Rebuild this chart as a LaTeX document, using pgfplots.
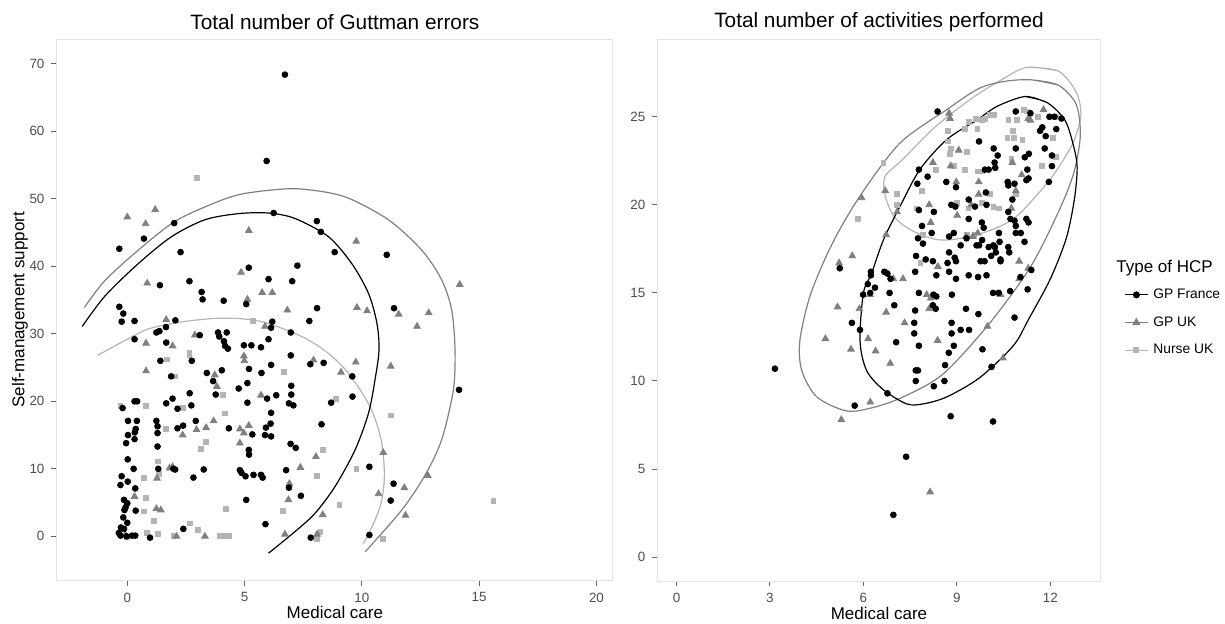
\documentclass[border=0pt]{standalone}
\usepackage{fontspec}
\setmainfont{Liberation Sans}
\usepackage{pgfplots}
\pgfplotsset{compat=1.18}
\definecolor{gpfr}{RGB}{0,0,0}
\definecolor{gpuk}{RGB}{128,128,128}
\definecolor{nurse}{RGB}{180,180,180}
\definecolor{ticktxt}{RGB}{77,77,77}

\pgfplotsset{
  panel/.style={
    scale only axis,
    axis line style={draw=gray!22, line width=0.5pt},
    tick align=outside, tick pos=left,
    major tick length=2.7pt,
    tick style={draw=black!60, line width=0.5pt},
    ticklabel style={font=\fontsize{6.7}{8}\selectfont, text=ticktxt},
    /pgf/number format/assume math mode=true,
    title style={font=\fontsize{10.4}{12}\selectfont, at={(axis description cs:0.5,1)}, anchor=center, yshift=2.5pt},
    xlabel style={font=\fontsize{8.5}{10}\selectfont, at={(axis description cs:0.5,0)}, anchor=center, yshift=-16.3pt},
  },
  fr/.style={only marks, mark=*, mark size=1.45pt, color=gpfr, forget plot},
  uk/.style={only marks, mark=triangle*, mark size=1.9pt, color=gpuk, forget plot},
  nu/.style={only marks, mark=square*, mark size=1.2pt, color=nurse, forget plot},
  el/.style={smooth, no markers, line width=0.6pt, forget plot},
}

\begin{document}
\begin{tikzpicture}
\path[use as bounding box] (0,0) rectangle (612.5pt,312pt);

% ---------------- left panel ----------------
\begin{axis}[panel,
  at={(28.45pt,21.9pt)}, anchor=south west,
  width=278pt, height=270.5pt,
  xmin=-3.0, xmax=20.7, ymin=-6.5, ymax=73.65,
  xtick={0,5,10,15,20}, ytick={0,10,...,70},
  title={Total number of Guttman errors},
  xlabel={Medical care},
  ylabel={Self-management support},
  ylabel style={font=\fontsize{8.5}{10}\selectfont, at={(axis description cs:-0.0664,0.5)}, anchor=center},
]
% Nurse UK
\addplot[nu] coordinates {
(2.97,53.1)(5.35,31.9)(2.65,27.2)(2.65,26.8)(1.70,26.2)(6.69,24.4)(2.04,23.7)(4.07,21.0)
(8.89,20.3)(0.78,19.3)(2.38,19.0)(-0.29,19.3)(4.16,18.2)(11.23,17.9)(1.66,15.9)(3.34,14.0)
(3.14,12.9)(8.35,12.8)(1.29,11.1)(9.77,10.0)(8.09,9.0)(0.71,8.7)(1.36,9.3)(0.8,5.7)
(0.71,3.7)(4.21,4.1)(6.62,3.8)(9.04,4.7)(15.61,5.2)(1.12,2.3)(2.68,1.9)(3.0,0.9)
(0.85,0.5)(1.32,0.4)(1.97,0.1)(3.94,0.1)(4.21,0.1)(4.33,0.1)(8.23,0.7)(8.09,-0.4)
(10.91,-0.4)(-0.03,-0.1)
};
% GP UK
\addplot[uk] coordinates {
(0.0,47.3)(0.78,46.3)(1.19,48.4)(5.18,45.3)(9.76,43.7)(0.85,37.5)(4.85,39.1)(5.12,35.1)
(5.75,36.1)(6.18,36.1)(6.82,33.5)(9.79,33.9)(10.22,33.4)(11.57,32.9)(12.85,33.1)(12.35,31.1)
(14.17,37.3)(5.87,31.1)(1.66,32.1)(0.8,28.6)(1.93,28.2)(2.88,29.8)(0.8,24.5)(4.97,26.7)
(4.99,26.0)(7.94,26.1)(9.74,25.8)(11.23,25.2)(9.11,24.3)(3.73,23.9)(3.82,22.2)(5.70,20.9)
(2.95,15.8)(3.36,16.1)(3.68,17.1)(4.80,15.9)(4.97,15.3)(5.18,16.4)(2.36,15.0)(4.80,13.8)
(1.27,8.6)(1.80,10.1)(1.93,10.3)(8.04,11.8)(7.38,10.2)(6.91,7.8)(6.87,5.4)(10.91,12.4)
(10.71,6.3)(11.81,7.2)(12.81,9.0)(11.86,3.1)(8.33,3.2)(0.31,5.9)(1.24,4.1)(1.43,3.9)
(6.72,0.3)(3.31,0.0)(2.10,0.0)(-0.08,0.2)(8.09,0.3)
};
% GP France
\addplot[fr] coordinates {
(6.72,68.4)(5.94,55.6)(6.24,47.9)(8.08,46.7)(8.25,45.1)(2.0,46.4)(0.71,44.1)(-0.34,42.6)
(2.27,42.1)(8.84,42.1)(11.06,41.7)(5.18,39.8)(7.25,40.1)(6.02,38.1)(7.03,37.8)(2.65,37.8)
(1.39,37.2)(3.17,36.2)(3.21,35.1)(4.11,34.9)(5.07,34.4)(8.09,33.8)(11.37,33.8)(-0.34,34.0)
(-0.17,33.0)(-0.24,31.8)(0.31,31.9)(2.05,32.0)(6.18,31.8)(7.76,31.9)(6.13,30.9)(1.65,31.0)
(1.37,30.4)(1.24,30.2)(3.09,29.8)(3.87,30.2)(3.92,29.6)(4.24,30.2)(6.97,30.2)(0.31,29.2)
(6.02,29.2)(4.12,28.9)(4.17,28.2)(4.29,27.8)(4.97,28.3)(5.29,28.3)(5.70,28.0)(1.66,28.7)
(6.97,26.8)(2.75,26.0)(1.41,26.0)(5.19,24.8)(8.37,25.7)(7.80,25.5)(6.13,25.4)(3.39,24.2)
(5.72,24.2)(4.03,24.6)(9.59,23.7)(1.87,23.7)(3.66,23.0)(6.99,22.3)(5.12,22.7)(4.75,21.9)
(14.14,21.7)(6.99,21.0)(2.66,21.2)(3.77,21.0)(6.35,20.9)(9.60,20.7)(1.93,20.4)(5.96,20.4)
(0.31,20.0)(0.42,20.0)(-0.20,19.0)(1.66,19.7)(5.12,19.8)(6.89,19.7)(7.08,19.4)(2.73,19.4)
(2.14,18.9)(8.69,19.8)(6.13,18.3)(0.03,17.1)(0.41,17.1)(1.24,17.1)(2.92,17.1)(0.36,15.9)
(0.32,15.4)(1.29,16.3)(1.29,15.3)(2.38,16.4)(2.14,16.0)(4.33,16.0)(5.33,15.1)(5.91,16.1)
(6.11,16.7)(5.87,15.0)(6.13,14.8)(8.28,16.6)(0.03,15.0)(0.31,14.4)(-0.05,13.8)(1.29,13.3)
(6.96,13.7)(7.18,13.1)(5.18,12.8)(5.19,12.1)(0.02,11.4)(0.27,10.0)(1.32,10.0)(1.97,10.0)
(2.04,9.9)(3.26,9.9)(4.80,9.8)(4.87,9.4)(5.04,8.9)(5.38,9.1)(5.70,9.1)(5.77,8.7)
(6.77,9.8)(2.82,8.7)(-0.24,8.9)(0.02,8.1)(-0.29,7.6)(0.34,7.1)(6.89,7.2)(11.35,7.8)
(7.40,6.0)(10.32,10.3)(-0.14,5.4)(0.0,4.9)(5.07,5.4)(11.23,5.3)(-0.07,4.3)(-0.12,3.9)
(0.36,3.8)(-0.17,2.8)(0.0,2.0)(5.89,1.8)(2.39,1.1)(-0.27,1.3)(-0.36,0.5)(-0.29,0.1)
(-0.03,0.0)(0.2,0.1)(0.34,0.1)(0.97,-0.2)(7.82,-0.2)(10.32,0.2)(-0.14,1.1)
};
% ellipse arcs
\addplot[el, color=nurse] coordinates {
(-1.27,26.8)(0.0,29.2)(0.97,30.8)(2.4,31.8)(3.81,32.3)(5.0,32.2)(5.94,31.6)(7.44,29.6)
(8.5,27.3)(9.42,24.2)(10.35,19.2)(10.82,14.3)(10.96,9.3)(10.85,5.4)(10.56,2.4)(10.06,-1.1)
};
\addplot[el, color=gpuk] coordinates {
(-1.83,33.9)(-0.95,37.9)(0.47,42.4)(1.96,46.5)(3.31,48.8)(4.73,50.6)(6.44,51.4)(7.58,51.4)
(9.28,50.3)(11.13,46.9)(12.55,42.4)(13.4,38.0)(13.83,33.5)(13.97,27.6)(13.9,21.7)(13.4,14.3)
(12.7,9.1)(11.7,3.9)(10.14,-2.3)
};
\addplot[el, color=gpfr] coordinates {
(-1.92,31.1)(-0.95,35.6)(0.47,40.4)(1.89,44.4)(3.31,46.9)(4.73,47.8)(6.0,47.9)(7.14,47.1)
(8.57,44.4)(9.57,40.4)(10.28,36.0)(10.64,31.6)(10.73,27.6)(10.56,23.2)(10.28,18.2)(9.71,12.8)
(8.86,7.4)(8.0,3.4)(7.15,0.7)(6.02,-2.5)
};
\end{axis}

% ---------------- right panel ----------------
\begin{axis}[panel,
  at={(328.9pt,21.45pt)}, anchor=south west,
  width=221.2pt, height=271pt,
  xmin=-0.6, xmax=13.6, ymin=-1.36, ymax=29.41,
  xtick={0,3,6,9,12}, ytick={0,5,...,25},
  title={Total number of activities performed},
  xlabel={Medical care},
  legend style={draw=none, fill=none, at={(1.0538,0.5426)}, anchor=north west,
    font=\fontsize{6.9}{8}\selectfont, row sep=6.4pt, inner sep=0pt,
    nodes={inner sep=0.5pt, text height=5pt, text depth=1.5pt},
    /tikz/every odd column/.append style={column sep=2pt}},
  legend cell align=left,
  legend image code/.code={\draw[mark repeat=2,mark phase=2,#1] plot coordinates {(0pt,0pt)(5.7pt,0pt)(11.4pt,0pt)};},
]
% Nurse UK
\addplot[nu] coordinates {
(6.64,22.4)(5.81,19.2)(7.08,20.6)(7.08,20.0)(7.88,20.8)(7.72,19.8)(7.91,18.3)(7.83,16.7)
(8.70,24.2)(8.70,23.6)(8.80,23.2)(8.78,22.9)(8.90,22.2)(8.33,22.0)(9.26,24.3)(9.38,24.7)
(9.32,23.0)(9.66,24.3)(9.61,24.9)(9.80,24.8)(9.89,24.9)(10.06,25.1)(10.18,25.1)(9.25,22.0)
(9.67,21.9)(9.80,21.9)(10.65,24.8)(10.81,24.2)(10.93,24.8)(11.14,25.4)(11.25,25.3)(11.59,25.0)
(12.17,25.0)(10.62,23.8)(10.82,23.8)(11.10,23.7)(12.08,23.8)(12.18,22.7)(11.74,22.2)(10.75,22.6)
(10.89,20.6)(10.17,19.9)(10.35,19.8)(10.05,20.6)(9.80,20.1)(9.01,20.1)(9.37,19.8)(9.56,18.3)
(9.32,18.3)
};
% GP UK
\addplot[uk] coordinates {
(8.75,25.2)(8.78,24.9)(11.78,25.4)(11.29,24.9)(11.36,24.8)(8.23,22.4)(8.80,22.2)(9.06,23.1)
(10.78,22.4)(11.08,21.7)(8.98,21.3)(9.70,21.3)(6.70,20.8)(5.94,20.4)(7.08,19.6)(8.11,20.0)
(8.16,19.0)(9.01,19.4)(9.70,20.6)(9.46,20.0)(10.75,19.8)(10.89,20.8)(9.67,18.4)(9.51,18.2)
(9.29,18.2)(6.73,18.3)(5.64,17.1)(5.22,16.7)(8.39,16.5)(7.27,15.8)(6.96,15.8)(6.21,14.9)
(8.03,14.9)(8.16,14.7)(10.40,14.9)(11.00,15.8)(11.00,16.8)(11.29,16.4)(5.17,14.2)(5.87,14.1)
(6.73,13.9)(8.11,14.1)(7.32,13.3)(4.78,12.4)(6.15,12.4)(8.38,12.3)(5.60,11.8)(6.39,11.7)
(6.86,11.0)(10.48,11.3)(9.98,13.1)(6.22,8.8)(5.29,7.8)(8.14,3.7)
};
% GP France
\addplot[fr] coordinates {
(8.38,25.3)(10.89,25.3)(11.36,25.2)(11.97,25.0)(12.36,24.9)(12.13,25.0)(11.67,24.2)(11.74,24.4)
(11.85,23.9)(12.19,24.3)(11.82,23.2)(12.05,22.8)(12.05,22.2)(11.95,21.3)(10.89,23.2)(11.31,22.9)
(11.18,22.7)(10.18,23.2)(10.31,22.8)(10.21,22.4)(10.23,22.1)(10.02,22.0)(9.90,22.0)(9.71,23.6)
(11.26,22.0)(11.23,21.4)(11.30,21.5)(10.85,21.2)(10.63,21.3)(10.65,21.1)(10.78,20.3)(8.66,21.3)
(8.97,21.0)(7.78,22.0)(8.06,21.6)(7.73,21.2)(7.78,19.7)(8.26,19.6)(8.82,20.0)(8.95,19.9)
(9.58,19.9)(9.95,20.0)(9.93,20.7)(9.38,20.3)(9.38,19.2)(9.80,19.0)(9.86,18.7)(10.65,19.6)
(10.72,19.2)(10.85,19.1)(10.89,18.8)(11.23,19.2)(11.30,19.0)(10.89,18.4)(11.05,18.4)(11.17,17.9)
(7.88,18.8)(8.19,18.4)(7.91,17.8)(7.75,18.1)(8.75,18.2)(8.90,18.4)(9.12,17.7)(9.31,18.1)
(9.63,17.7)(9.71,17.7)(9.81,18.0)(10.02,17.6)(10.17,17.7)(10.35,18.4)(10.37,17.9)(10.65,17.6)
(10.68,17.3)(10.22,17.6)(10.25,17.3)(10.10,17.1)(10.40,16.9)(10.40,16.8)(8.75,17.3)(8.93,17.0)
(7.69,17.1)(8.0,16.9)(8.23,16.8)(8.70,16.7)(8.97,16.8)(9.76,16.8)(9.89,16.8)(7.66,16.2)
(8.75,16.2)(8.34,16.0)(9.38,16.0)(9.68,15.9)(9.95,16.0)(8.97,15.8)(11.04,15.9)(11.39,16.3)
(6.67,16.2)(6.77,16.1)(6.87,15.8)(6.24,16.2)(6.24,16.0)(5.24,16.4)(6.14,15.5)(6.37,15.3)
(5.99,14.9)(6.22,15.0)(6.84,15.0)(7.78,15.0)(8.25,14.9)(8.34,14.8)(8.84,14.9)(8.23,14.3)
(8.32,14.1)(10.16,15.0)(10.34,15.0)(10.71,15.1)(11.27,15.2)(6.99,14.3)(7.66,14.0)(9.29,14.1)
(9.69,13.8)(5.63,13.3)(5.89,12.9)(7.63,13.3)(8.83,13.3)(10.85,13.6)(7.63,12.7)(8.83,12.7)
(9.12,12.9)(9.39,12.9)(7.05,12.2)(7.78,12.0)(8.90,12.0)(8.74,11.6)(9.82,11.8)(7.68,10.6)
(7.75,10.6)(8.62,10.9)(10.11,10.8)(3.16,10.7)(7.68,10.0)(8.26,9.7)(8.60,10.0)(6.77,9.3)
(5.72,8.6)(8.80,8.0)(10.16,7.7)(7.37,5.7)(6.96,2.4)
};
% ellipses
\addplot[el, color=nurse] coordinates {
(11.23,27.8)(12.25,27.6)(12.83,26.4)(12.98,25.1)(12.77,23.7)(12.4,22.5)(11.88,21.2)(10.81,19.2)
(9.63,18.3)(8.5,18.0)(7.6,18.5)(7.0,19.3)(6.7,20.5)(6.69,21.6)(7.27,22.6)(8.29,24.4)
(9.44,26.0)(10.34,27.0)(11.23,27.8)(12.25,27.6)
};
\addplot[el, color=gpuk] coordinates {
(11.36,27.1)(12.25,26.8)(12.83,25.7)(12.96,23.9)(12.75,21.8)(12.26,19.6)(11.37,16.5)(10.06,13.3)
(8.56,10.4)(7.28,9.1)(6.32,8.5)(5.46,8.3)(4.50,9.1)(4.02,10.6)(3.96,12.3)(4.3,14.9)
(5.0,17.8)(5.89,20.5)(7.17,23.5)(8.67,25.4)(9.70,26.6)(10.5,27.0)(11.36,27.1)(12.25,26.8)
};
\addplot[el, color=gpfr] coordinates {
(11.2,26.15)(11.9,25.8)(12.47,24.8)(12.75,23.3)(12.86,22.1)(12.77,20.3)(12.51,18.1)(12.0,15.8)
(11.3,13.5)(10.81,12.0)(9.74,10.2)(8.68,9.1)(7.92,8.7)(7.39,8.7)(6.64,9.5)(6.1,10.6)
(5.89,12.3)(6.0,15.0)(6.26,16.1)(6.64,18.0)(7.17,19.9)(7.81,22.0)(8.67,23.7)(9.63,24.8)
(10.3,25.6)(11.2,26.15)(11.9,25.8)
};
\addlegendimage{color=gpfr, line width=0.6pt, mark=*, mark size=1.45pt}
\addlegendentry{GP France}
\addlegendimage{color=gpuk, line width=0.6pt, mark=triangle*, mark size=1.9pt}
\addlegendentry{GP UK}
\addlegendimage{color=nurse, line width=0.6pt, mark=square*, mark size=1.2pt}
\addlegendentry{Nurse UK}
\end{axis}

\node[anchor=west, font=\fontsize{8.5}{10}\selectfont, inner sep=0pt] at (558pt,178pt) {Type of HCP};
\end{tikzpicture}
\end{document}
